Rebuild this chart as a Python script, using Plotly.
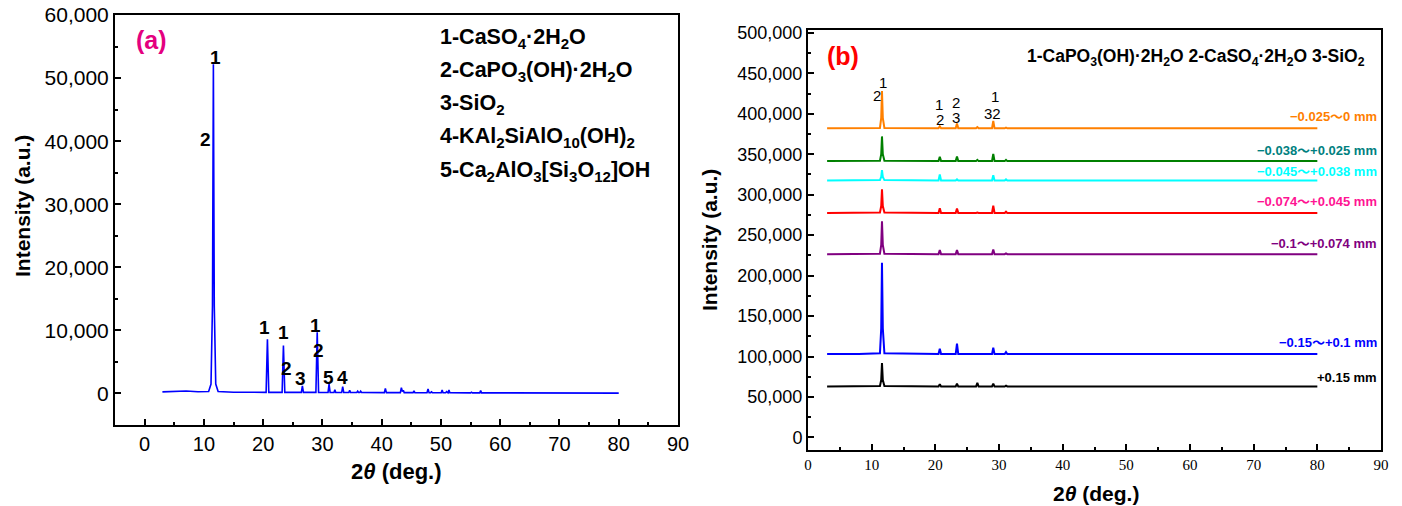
import plotly.graph_objects as go

# ---------------- Panel (a) data ----------------
a_two_theta = [3.0, 4.0, 5.5, 7.0, 9.0, 10.8, 11.2, 11.45, 11.6, 11.75, 12.0, 12.4, 15.0, 18.0,
               20.5, 20.72, 20.95, 23.2, 23.42, 23.65, 26.45, 26.62, 26.8,
               28.9, 29.12, 29.35, 30.95, 31.12, 31.3, 31.95, 32.1, 32.25, 33.25, 33.42, 33.6,
               34.45, 34.6, 34.75, 35.8, 35.95, 36.1, 36.3, 36.45, 36.6, 36.8, 36.95, 37.1,
               40.45, 40.62, 40.8, 43.15, 43.32, 43.5, 43.65, 43.8, 45.3, 45.45, 45.6,
               47.65, 47.82, 48.0, 48.25, 48.4, 48.55, 50.05, 50.2, 50.35, 50.8, 50.95, 51.1,
               51.2, 51.35, 51.5, 55.0, 55.15, 55.3, 56.55, 56.7, 56.85, 60.0, 68.5, 68.65,
               68.8, 75.0, 80.0]
a_intensity = [250, 300, 420, 380, 260, 300, 1500, 14000, 52200, 14000, 1500, 300, 200, 180,
               180, 8600, 180, 180, 7600, 180, 170, 1200, 170,
               170, 9700, 170, 160, 1500, 160, 160, 600, 160, 150, 1100, 150,
               150, 500, 150, 150, 350, 150, 150, 350, 150, 150, 250, 140,
               140, 800, 140, 130, 900, 300, 500, 130, 130, 400, 130,
               120, 700, 120, 120, 250, 120, 110, 550, 110, 110, 300, 110,
               110, 550, 110, 100, 200, 100, 100, 450, 100, 90, 80, 180,
               80, 60, 50]

a_phase_labels = ["1", "2", "1", "1", "2", "3", "1", "2", "5", "4"]
a_label_x = [11.9, 10.2, 20.2, 23.5, 23.9, 26.3, 28.9, 29.4, 31.0, 33.4]
a_label_y = [53300, 40200, 10500, 9700, 3900, 2300, 10800, 6800, 2500, 2500]

a_legend_lines = ["1-CaSO<sub>4</sub>·2H<sub>2</sub>O",
                  "2-CaPO<sub>3</sub>(OH)·2H<sub>2</sub>O",
                  "3-SiO<sub>2</sub>",
                  "4-KAl<sub>2</sub>SiAlO<sub>10</sub>(OH)<sub>2</sub>",
                  "5-Ca<sub>2</sub>AlO<sub>3</sub>[Si<sub>3</sub>O<sub>12</sub>]OH"]

# ---------------- Panel (b) data ----------------
b_two_theta = [3.0, 8.0, 11.3, 11.5, 11.62, 11.75, 12.0, 20.5, 20.7, 20.9, 23.2, 23.4, 23.6,
               26.4, 26.6, 26.8, 28.9, 29.1, 29.3, 30.9, 31.1, 31.3, 32.0, 32.2, 32.4,
               33.2, 33.4, 33.6, 80.0]

b_fractions = ["−0.025～0 mm", "−0.038～+0.025 mm", "−0.045～+0.038 mm",
               "−0.074～+0.045 mm", "−0.1～+0.074 mm", "−0.15～+0.1 mm", "+0.15 mm"]
b_line_colors = ["#FF8000", "#008000", "#00FFFF", "#FF0000", "#800080", "#0000FF", "#000000"]
b_label_colors = ["#FF8000", "#008080", "#00FFFF", "#FF1493", "#800080", "#0000FF", "#000000"]
b_label_y = [396000, 354500, 328500, 291000, 240000, 117500, 74500]

b_int_orange = [382000, 382000, 382500, 395000, 428000, 395000, 382500, 382000, 384500, 382000,
                382000, 388000, 382000, 382000, 383500, 382000, 382000, 391000, 382000,
                382000, 382800, 382000, 382000, 382000, 382000, 382000, 382000, 382000, 382000]
b_int_green = [341500, 341500, 342000, 350000, 372000, 350000, 342000, 341500, 347000, 341500,
               341500, 347300, 341500, 341500, 343000, 341500, 341500, 350500, 341500,
               341500, 343000, 341500, 341500, 342200, 341500, 341500, 342200, 341500, 341500]
b_int_cyan = [317500, 317500, 318000, 322000, 330500, 322000, 318000, 317500, 325000, 317500,
              317500, 319000, 317500, 317500, 317500, 317500, 317500, 324000, 317500,
              317500, 319000, 317500, 317500, 317500, 317500, 317500, 317500, 317500, 317500]
b_int_red = [277500, 277500, 278000, 286000, 306500, 286000, 278000, 277500, 283300, 277500,
             277500, 282900, 277500, 277500, 278000, 277500, 277500, 286500, 277500,
             277500, 279000, 277500, 277500, 277500, 277500, 277500, 277500, 277500, 277500]
b_int_purple = [226500, 226500, 227000, 238000, 267000, 238000, 227000, 226500, 231500, 226500,
                226500, 231500, 226500, 226500, 226800, 226500, 226500, 232300, 226500,
                226500, 227500, 226500, 226500, 226500, 226500, 226500, 226500, 226500, 226500]
b_int_blue = [103000, 103000, 104000, 135000, 216000, 135000, 104000, 103000, 109600, 103000,
              103000, 116000, 103000, 103000, 103800, 103000, 103000, 110800, 103000,
              103000, 105500, 103000, 103000, 103500, 103000, 103000, 103500, 103000, 103000]
b_int_black = [63000, 63000, 63500, 71000, 92000, 71000, 63500, 63000, 65900, 63000,
               63000, 66300, 63000, 63000, 67500, 63000, 63000, 66300, 63000,
               63000, 64000, 63000, 63000, 63800, 63000, 63000, 63800, 63000, 63000]
b_series = [b_int_orange, b_int_green, b_int_cyan, b_int_red, b_int_purple, b_int_blue, b_int_black]

b_peak_labels = ["1", "2", "1", "2", "2", "3", "1", "32"]
b_peak_label_x = [11.8, 10.9, 20.5, 20.8, 23.3, 23.3, 29.3, 29.0]
b_peak_label_y = [439000, 422000, 412000, 392500, 413500, 395000, 421000, 400500]

b_title = ("1-CaPO<sub>3</sub>(OH)·2H<sub>2</sub>O 2-CaSO<sub>4</sub>·2H<sub>2</sub>O "
           "3-SiO<sub>2</sub>")

# ---------------- Figure ----------------
W, H = 1402, 506
fig = go.Figure()

fig.add_trace(go.Scatter(x=a_two_theta, y=a_intensity, mode="lines",
                         line=dict(color="#0000FF", width=1.6), xaxis="x", yaxis="y",
                         showlegend=False, hoverinfo="skip"))

for vals, col in zip(b_series, b_line_colors):
    fig.add_trace(go.Scatter(x=b_two_theta, y=vals, mode="lines",
                             line=dict(color=col, width=2), xaxis="x2", yaxis="y2",
                             showlegend=False, hoverinfo="skip"))

def px_x(p):
    return p / W

def px_y(p):
    return 1 - p / H

sans = "Liberation Sans, Arial, sans-serif"
serif = "Liberation Serif, Times New Roman, serif"

axis_common = dict(showline=True, linecolor="black", linewidth=2, mirror=True,
                   ticks="inside", ticklen=6, tickwidth=1.5, tickcolor="black",
                   showgrid=False, zeroline=False, automargin=False)

fig.update_layout(
    width=W, height=H, margin=dict(l=0, r=0, t=0, b=0),
    paper_bgcolor="white", plot_bgcolor="white",
    xaxis=dict(domain=[px_x(115), px_x(678)], range=[-5, 90], anchor="y",
               tickvals=[0, 10, 20, 30, 40, 50, 60, 70, 80, 90],
               minor=dict(ticks="inside", dtick=5, tick0=0, ticklen=3, tickcolor="black"),
               tickfont=dict(family=sans, size=20, color="black"), **axis_common),
    yaxis=dict(domain=[px_y(425), px_y(15)], range=[-5000, 60000], anchor="x",
               tickvals=[0, 10000, 20000, 30000, 40000, 50000, 60000], tickformat=",d",
               minor=dict(ticks="inside", dtick=5000, tick0=0, ticklen=3, tickcolor="black"),
               tickfont=dict(family=sans, size=21, color="black"), **axis_common),
    xaxis2=dict(domain=[px_x(808), px_x(1381)], range=[0, 90], anchor="y2",
                tickvals=[0, 10, 20, 30, 40, 50, 60, 70, 80, 90],
                minor=dict(ticks="inside", dtick=5, tick0=0, ticklen=3, tickcolor="black"),
                tickfont=dict(family=serif, size=15, color="black"), **axis_common),
    yaxis2=dict(domain=[px_y(450), px_y(30)], range=[-15500, 503500], anchor="x2",
                tickvals=[0, 50000, 100000, 150000, 200000, 250000, 300000, 350000,
                          400000, 450000, 500000], tickformat=",d",
                minor=dict(ticks="inside", dtick=25000, tick0=0, ticklen=3, tickcolor="black"),
                tickfont=dict(family=sans, size=18, color="black"), **axis_common),
)

ann = []
def add(**kw):
    kw.setdefault("xanchor", "center")
    kw.setdefault("yanchor", "middle")
    kw.setdefault("showarrow", False)
    ann.append(kw)

# panel labels
add(text="<b>(a)</b>", x=px_x(151), y=px_y(40), xref="paper", yref="paper",
    font=dict(family=sans, size=25, color="#E4007F"))
add(text="<b>(b)</b>", x=px_x(843), y=px_y(56), xref="paper", yref="paper",
    font=dict(family=sans, size=25, color="#FF0000"))

# axis titles
for xc, yc in [(22, 206), (710, 240)]:
    add(text="<b>Intensity (a.u.)</b>", x=px_x(xc), y=px_y(yc), xref="paper",
        yref="paper", textangle=-90, font=dict(family=sans, size=21, color="black"))
for (xc, yc), fs in zip([(396, 471), (1096, 493)], [22, 21]):
    add(text="<b>2<i>θ</i> (deg.)</b>", x=px_x(xc), y=px_y(yc), xref="paper",
        yref="paper", font=dict(family=sans, size=fs, color="black"))

# panel (a) phase legend text
for i, line in enumerate(a_legend_lines):
    add(text="<b>" + line + "</b>", x=px_x(438), y=px_y(38 + i * 33.3),
        xref="paper", yref="paper", xanchor="left",
        font=dict(family=sans, size=21.5, color="black"))

# panel (a) peak labels
for t, x, y in zip(a_phase_labels, a_label_x, a_label_y):
    add(text="<b>" + t + "</b>", x=x, y=y, xref="x", yref="y",
        font=dict(family=sans, size=19, color="black"))

# panel (b) title
add(text="<b>" + b_title + "</b>", x=px_x(1367), y=px_y(57), xref="paper",
    yref="paper", xanchor="right", font=dict(family=sans, size=17.5, color="black"))

# panel (b) peak labels
for t, x, y in zip(b_peak_labels, b_peak_label_x, b_peak_label_y):
    add(text=t, x=x, y=y, xref="x2", yref="y2",
        font=dict(family=sans, size=15, color="black"))

# panel (b) size fraction labels
for t, c, y in zip(b_fractions, b_label_colors, b_label_y):
    add(text="<b>" + t + "</b>", x=px_x(1379), y=y, xref="paper", yref="y2",
        xanchor="right", font=dict(family=sans + ", Noto Sans CJK SC", size=13, color=c))

fig.update_layout(annotations=ann)
fig.write_html("out.html", config={"displayModeBar": False},
               post_script="document.body.style.margin='0';document.body.style.overflow='hidden';")
